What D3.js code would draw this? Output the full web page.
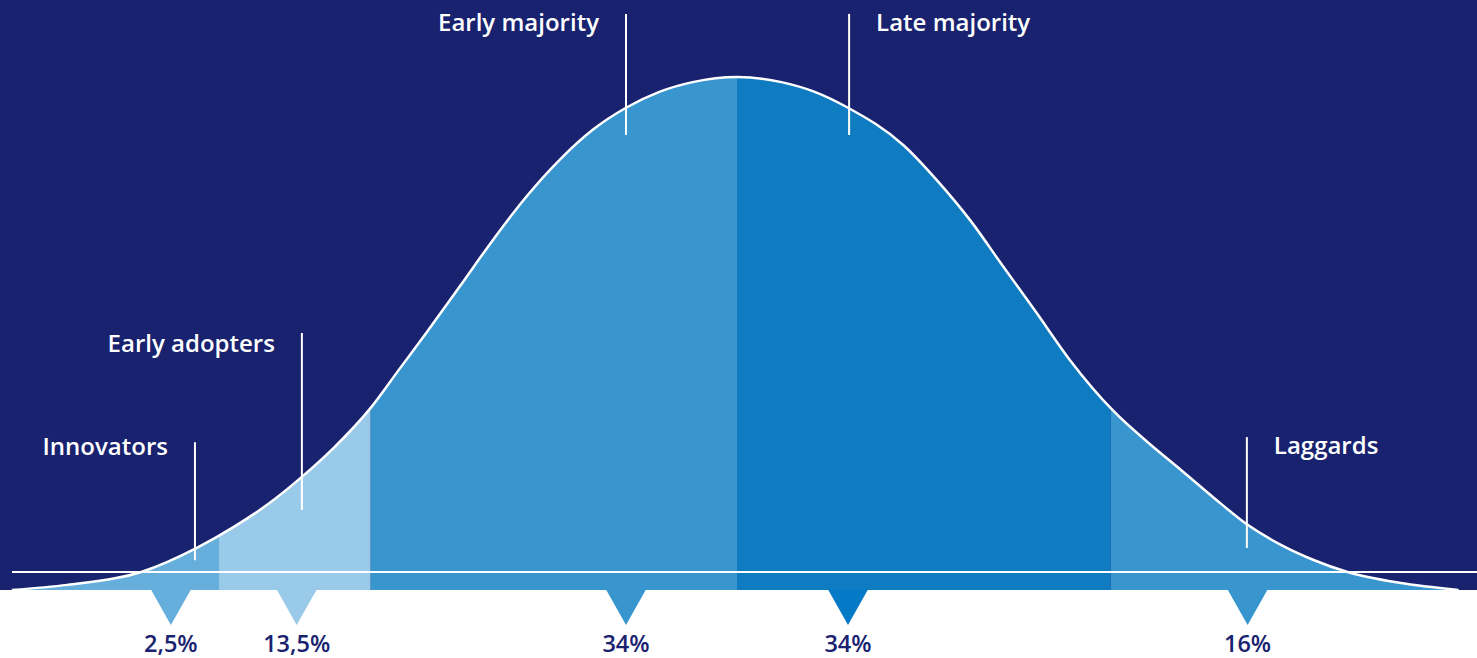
<!DOCTYPE html>
<html>
<head>
<meta charset="utf-8">
<script src="https://cdn.jsdelivr.net/npm/d3@7"></script>
<style>
  html, body { margin: 0; padding: 0; background: #ffffff; }
  svg { display: block; }
  text { font-family: "Open Sans", "Noto Sans", sans-serif; font-weight: 600; }
</style>
</head>
<body>
<svg id="chart" width="1477" height="658"></svg>
<script>
// ---- data (x in standard-deviation units, y as relative density) ----
const curveX = [-1.96, -1.81, -1.61, -1.46, -1.36, -1.27, -1.18, -1.09, -0.99, -0.91, -0.84, -0.75, -0.66, -0.57, -0.48, -0.39, -0.30, -0.21, -0.12, 0,
                 0.12, 0.21, 0.30, 0.45, 0.54, 0.63, 0.72, 0.81, 0.90, 1.02, 1.11, 1.20, 1.29, 1.38, 1.47, 1.56, 1.65, 1.79, 1.95];
const curveY = [0, 0.010, 0.035, 0.082, 0.123, 0.166, 0.218, 0.277, 0.355, 0.433, 0.501, 0.591, 0.682, 0.766, 0.838, 0.897, 0.940, 0.971, 0.990, 1,
                 0.990, 0.971, 0.940, 0.867, 0.799, 0.721, 0.630, 0.540, 0.448, 0.347, 0.288, 0.234, 0.179, 0.127, 0.088, 0.058, 0.035, 0.014, 0];

const categories   = ["Innovators", "Early adopters", "Early majority", "Late majority", "Laggards"];
const shares       = ["2,5%", "13,5%", "34%", "34%", "16%"];
const segStart     = [-2.1, -1.40, -0.99, 0, 1.01];
const segEnd       = [-1.40, -0.99, 0, 1.01, 2.1];
const pointerX     = [-1.53, -1.19, -0.30, 0.30, 1.38];
const labelX       = [-1.465, -1.176, -0.30, 0.303, 1.378];
const labelTop     = [0.288, 0.501, 1.123, 1.123, 0.298];
const labelBottom  = [0.058, 0.156, 0.887, 0.887, 0.082];
const labelTextY   = [0.263, 0.464, 1.090, 1.090, 0.265];
const labelSide    = ["left", "left", "left", "right", "right"];
const baselineLevel = 0.035;

// ---- styles ----
const navy = "#19226f";
const segColors     = ["#66aedb", "#9acae9", "#3895ce", "#0f7bc0", "#3895ce"];
const pointerColors = ["#66aedb", "#9acae9", "#3895ce", "#0479c5", "#3895ce"];

const W = 1477, H = 658;
const svg = d3.select("#chart");

const x = d3.scaleLinear().domain([-2, 2]).range([-3, 1477]);
const y = d3.scaleLinear().domain([0, 1]).range([590, 77]);

const pts = curveX.map((v, i) => [v, curveY[i]]);

// background
svg.append("rect").attr("x", 0).attr("y", 0).attr("width", W).attr("height", y(0)).attr("fill", navy);

// clip to area under curve
const area = d3.area().x(d => x(d[0])).y0(y(0)).y1(d => y(d[1])).curve(d3.curveMonotoneX);
svg.append("clipPath").attr("id", "under").append("path").attr("d", area(pts));

svg.append("g").attr("clip-path", "url(#under)")
  .selectAll("rect").data(categories).join("rect")
  .attr("x", (d, i) => x(segStart[i]))
  .attr("width", (d, i) => x(segEnd[i]) - x(segStart[i]))
  .attr("y", 0).attr("height", y(0))
  .attr("fill", (d, i) => segColors[i]);

// baseline
svg.append("line")
  .attr("x1", 12).attr("x2", W)
  .attr("y1", y(baselineLevel)).attr("y2", y(baselineLevel))
  .attr("stroke", "#ffffff").attr("stroke-width", 2);

// curve
const line = d3.line().x(d => x(d[0])).y(d => y(d[1])).curve(d3.curveMonotoneX);
svg.append("path").attr("d", line(pts)).attr("fill", "none")
  .attr("stroke", "#ffffff").attr("stroke-width", 2.5);

// label lines + labels
const lab = svg.append("g");
lab.selectAll("line").data(categories).join("line")
  .attr("x1", (d, i) => x(labelX[i])).attr("x2", (d, i) => x(labelX[i]))
  .attr("y1", (d, i) => y(labelTop[i])).attr("y2", (d, i) => y(labelBottom[i]))
  .attr("stroke", "#ffffff").attr("stroke-width", 2);
lab.selectAll("text").data(categories).join("text")
  .attr("x", (d, i) => x(labelX[i]) + (labelSide[i] === "left" ? -27 : 27))
  .attr("y", (d, i) => y(labelTextY[i]))
  .attr("text-anchor", (d, i) => labelSide[i] === "left" ? "end" : "start")
  .attr("fill", "#ffffff").attr("font-size", 24)
  .text(d => d);

// pointers
const py = y(0);
svg.append("g").selectAll("path").data(categories).join("path")
  .attr("d", (d, i) => {
    const cx = x(pointerX[i]);
    return `M${cx - 20},${py - 0.5} L${cx + 20},${py - 0.5} L${cx},${py + 35} Z`;
  })
  .attr("fill", (d, i) => pointerColors[i]);

svg.append("g").selectAll("text").data(shares).join("text")
  .attr("x", (d, i) => x(pointerX[i]))
  .attr("y", 652)
  .attr("text-anchor", "middle")
  .attr("fill", navy).attr("font-size", 23.5)
  .text(d => d);
</script>
</body>
</html>
